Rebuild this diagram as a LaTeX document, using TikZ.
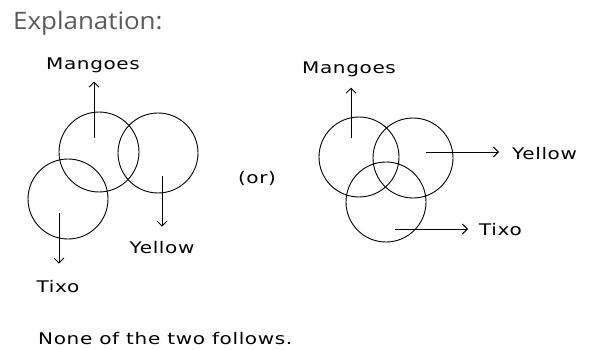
\documentclass[tikz,border=0pt]{standalone}
\usepackage{fontspec}
\setmainfont{DejaVu Sans}
\newfontfamily\headfont{Open Sans}
\usepackage{xcolor}
\usetikzlibrary{arrows.meta,positioning}
\definecolor{headgray}{HTML}{5A5A5A}

\begin{document}
\begin{tikzpicture}[x=1pt,y=-1pt,
      set/.style={draw,circle,line width=0.9pt,minimum size=80pt,inner sep=0pt},
      lbl/.style={inner sep=0pt,font=\fontsize{16}{18}\selectfont\addfontfeature{FakeStretch=1.25,LetterSpace=4}},
      pointer/.style={-{Straight Barb[length=5pt,width=10pt]},line width=0.9pt}]
    \useasboundingbox (0,0) rectangle (594,350);
    % heading
    \node[anchor=base west,inner sep=0pt,text=headgray,
          font=\headfont\fontsize{24}{28}\selectfont\addfontfeature{FakeStretch=1.08}] (head) at (13,30) {Explanation:};
    % first case
    \node[set] (mangoA) at (99,152) {};
    \node[set] (yellowA) at (158,153) {};
    \node[set] (tixoA) at (68,199) {};
    \node[lbl,anchor=base] (mlabA) at (93,70) {Mangoes};
    \node[lbl,anchor=base] (ylabA) at (162,253) {Yellow};
    \node[lbl,anchor=base] (tlabA) at (58,292) {Tixo};
    \coordinate (mA) at (94,138);
    \coordinate (yA) at (162,176);
    \coordinate (tA) at (59,213);
    \draw[pointer,shorten >=8pt] (mA) -- (mA |- mlabA.south);
    \draw[pointer,shorten >=14pt] (yA) -- (yA |- ylabA.north);
    \draw[pointer,shorten >=16pt] (tA) -- (tA |- tlabA.north);
    % or
    \node[lbl,anchor=base] (alt) at (257,183) {(or)};
    % second case
    \node[set] (mangoB) at (359,157) {};
    \node[set] (yellowB) at (413,158) {};
    \node[set] (tixoB) at (386,202) {};
    \node[lbl,anchor=base] (mlabB) at (349,74) {Mangoes};
    \node[lbl,anchor=base west] (ylabB) at (512,160) {Yellow};
    \node[lbl,anchor=base west] (tlabB) at (479,235) {Tixo};
    \coordinate (mB) at (351,138);
    \coordinate (yB) at (426,152);
    \coordinate (tB) at (395,229);
    \draw[pointer,shorten >=10pt] (mB) -- (mB |- mlabB.south);
    \draw[pointer,shorten >=13pt] (yB) -- (yB -| ylabB.west);
    \draw[pointer,shorten >=11pt] (tB) -- (tB -| tlabB.west);
    % conclusion
    \node[lbl,anchor=base west] (concl) at (38,344) {None of the two follows.};
  \end{tikzpicture}
\end{document}
